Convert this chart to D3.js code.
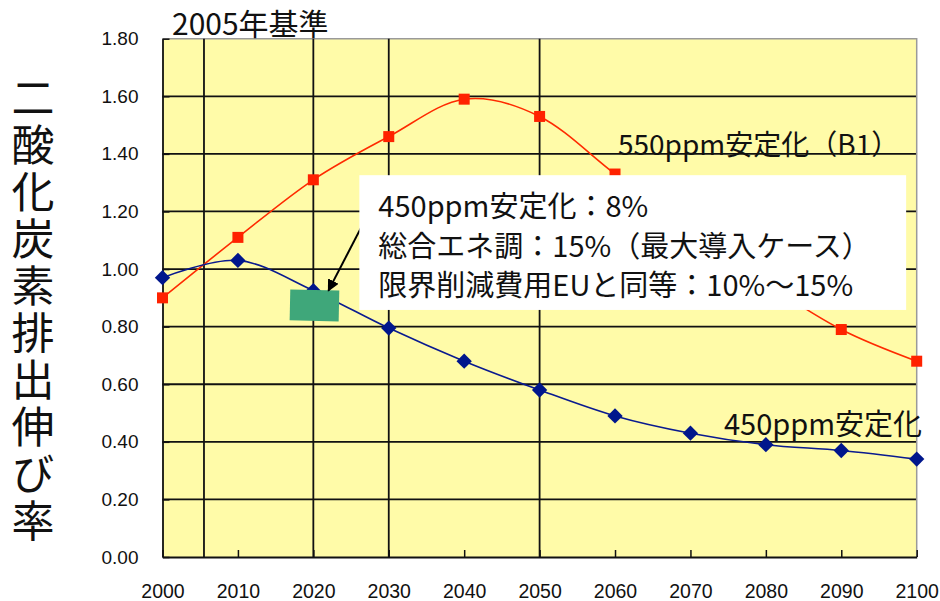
<!DOCTYPE html>
<html>
<head>
<meta charset="utf-8">
<script src="https://cdn.jsdelivr.net/npm/d3@7"></script>
<style>
  html, body { margin: 0; padding: 0; background: #ffffff; }
  svg { display: block; }
</style>
</head>
<body>
<svg id="chart" width="940" height="601"></svg>
<script>
// Emission growth ratios relative to 2005
const years = [2000, 2010, 2020, 2030, 2040, 2050, 2060, 2070, 2080, 2090, 2100];
const b1Values = [0.90, 1.11, 1.31, 1.46, 1.59, 1.53, 1.33, 1.13, 0.95, 0.79, 0.68];
const s450Values = [0.97, 1.03, 0.925, 0.795, 0.68, 0.58, 0.49, 0.43, 0.39, 0.37, 0.34];
const yTicks = [0, 0.2, 0.4, 0.6, 0.8, 1.0, 1.2, 1.4, 1.6, 1.8];
const xTicks = [2000, 2010, 2020, 2030, 2040, 2050, 2060, 2070, 2080, 2090, 2100];
const markerYears = [2005.5, 2020, 2030, 2050];

// Target range for 2020 (8%–15% reduction band) and callout anchors
const bandYears = [2016.9, 2023.4];
const bandValues = [0.82, 0.927];
const arrowFrom = [2027.6, 1.208];
const arrowTo = [2022.0, 0.925];
const noteYears = [2026.1, 2098.6];
const noteValues = [1.326, 0.858];
const noteLines = ["450ppm安定化：8%", "総合エネ調：15%（最大導入ケース）", "限界削減費用EUと同等：10%～15%"];

const yTitle = "二酸化炭素排出伸び率";
const baseLabel = "2005年基準";
const b1Label = "550ppm安定化（B1）";
const s450Label = "450ppm安定化";

const svg = d3.select("#chart");
const plot = { left: 162.5, right: 916.7, top: 38.7, bottom: 557 };

const x = d3.scaleLinear().domain([2000, 2100]).range([plot.left, plot.right]);
const y = d3.scaleLinear().domain([0, 1.8]).range([plot.bottom, plot.top]);

const latin = "'Liberation Sans', Arial, sans-serif";
const cjk = "'Noto Sans CJK JP', 'Noto Sans', sans-serif";

// plot background
svg.append("rect")
  .attr("x", plot.left).attr("y", plot.top)
  .attr("width", plot.right - plot.left).attr("height", plot.bottom - plot.top)
  .attr("fill", "#fffba8");

// horizontal gridlines
svg.append("g").selectAll("line")
  .data(yTicks.filter(v => v > 0 && v < 1.8))
  .join("line")
  .attr("x1", plot.left).attr("x2", plot.right)
  .attr("y1", d => y(d)).attr("y2", d => y(d))
  .attr("stroke", "#111").attr("stroke-width", 1.8);

// top and right frame
svg.append("path")
  .attr("d", `M${plot.left},${plot.top}H${plot.right}V${plot.bottom}`)
  .attr("fill", "none").attr("stroke", "#9a9a9a").attr("stroke-width", 1.5);

// vertical reference lines
svg.append("g").selectAll("line")
  .data(markerYears)
  .join("line")
  .attr("x1", d => x(d)).attr("x2", d => x(d))
  .attr("y1", plot.top).attr("y2", plot.bottom)
  .attr("stroke", "#111").attr("stroke-width", 1.8);

// axes
const yAxis = d3.axisLeft(y).tickValues(yTicks).tickSizeInner(-7).tickSizeOuter(0)
  .tickFormat(d3.format(".2f")).tickPadding(24);
const gy = svg.append("g").attr("transform", `translate(${plot.left},0)`).call(yAxis);
gy.select(".domain").attr("stroke", "#111").attr("stroke-width", 1.8);
gy.selectAll(".tick line").attr("stroke", "#111").attr("stroke-width", 1.5);
gy.selectAll(".tick text")
  .attr("font-family", latin).attr("font-size", 19).attr("fill", "#111");

const xAxis = d3.axisBottom(x).tickValues(xTicks).tickSizeInner(-7).tickSizeOuter(0)
  .tickFormat(d3.format("d")).tickPadding(27);
const gx = svg.append("g").attr("transform", `translate(0,${plot.bottom})`).call(xAxis);
gx.select(".domain").attr("stroke", "#111").attr("stroke-width", 2);
gx.selectAll(".tick line").attr("stroke", "#111").attr("stroke-width", 1.5);
gx.selectAll(".tick text")
  .attr("font-family", latin).attr("font-size", 19.5).attr("fill", "#111");

// series
const line = d3.line().x(d => x(d[0])).y(d => y(d[1])).curve(d3.curveCatmullRom.alpha(0));
const b1 = years.map((yr, i) => [yr, b1Values[i]]);
const s450 = years.map((yr, i) => [yr, s450Values[i]]);

svg.append("path").datum(b1).attr("d", line)
  .attr("fill", "none").attr("stroke", "#ff2a00").attr("stroke-width", 1.6);
svg.append("path").datum(s450).attr("d", line)
  .attr("fill", "none").attr("stroke", "#0a1a8f").attr("stroke-width", 1.6);

svg.append("g").selectAll("rect")
  .data(b1).join("rect")
  .attr("x", d => x(d[0]) - 5.5).attr("y", d => y(d[1]) - 5.5)
  .attr("width", 11).attr("height", 11)
  .attr("fill", "#ff2200");

const diamond = d3.symbol().type(d3.symbolDiamond2).size(150);
svg.append("g").selectAll("path")
  .data(s450).join("path")
  .attr("transform", d => `translate(${x(d[0])},${y(d[1])})`)
  .attr("d", diamond)
  .attr("fill", "#00168c");

// 2020 target band
const bx0 = x(bandYears[0]), bx1 = x(bandYears[1]);
const by0 = y(bandValues[1]), by1 = y(bandValues[0]);
svg.append("rect")
  .attr("x", bx0).attr("y", by0)
  .attr("width", bx1 - bx0).attr("height", by1 - by0)
  .attr("transform", `rotate(1.2,${(bx0 + bx1) / 2},${(by0 + by1) / 2})`)
  .attr("fill", "#3fa77a");

// callout arrow
svg.append("defs").append("marker")
  .attr("id", "arrowhead").attr("viewBox", "0 0 10 10")
  .attr("refX", 9).attr("refY", 5)
  .attr("markerWidth", 6).attr("markerHeight", 6)
  .attr("orient", "auto")
  .append("path").attr("d", "M0,0L10,5L0,10Z").attr("fill", "#000");
svg.append("line")
  .attr("x1", x(arrowFrom[0])).attr("y1", y(arrowFrom[1]))
  .attr("x2", x(arrowTo[0])).attr("y2", y(arrowTo[1]))
  .attr("stroke", "#000").attr("stroke-width", 2)
  .attr("marker-end", "url(#arrowhead)");

// callout box
const nx0 = x(noteYears[0]), nx1 = x(noteYears[1]);
const ny0 = y(noteValues[0]), ny1 = y(noteValues[1]);
svg.append("rect")
  .attr("x", nx0).attr("y", ny0)
  .attr("width", nx1 - nx0).attr("height", ny1 - ny0)
  .attr("fill", "#ffffff");
svg.append("g").selectAll("text")
  .data(noteLines).join("text")
  .attr("x", nx0 + 19)
  .attr("y", (d, i) => ny0 + 42 + i * 39.5)
  .attr("font-family", cjk).attr("font-size", 29).attr("fill", "#111")
  .text(d => d);

// series labels
svg.append("text")
  .attr("x", 618).attr("y", y(1.4) + 1)
  .attr("font-family", cjk).attr("font-size", 28).attr("fill", "#111")
  .text(b1Label);
svg.append("text")
  .attr("x", 724).attr("y", y(0.4) - 7)
  .attr("font-family", cjk).attr("font-size", 29).attr("fill", "#111")
  .text(s450Label);

// base-year note
svg.append("text")
  .attr("x", 172).attr("y", 35)
  .attr("font-family", cjk).attr("font-size", 30).attr("fill", "#111")
  .text(baseLabel);

// vertical axis title
svg.append("text")
  .attr("x", 33).attr("y", 76.5)
  .style("writing-mode", "vertical-rl")
  .style("letter-spacing", "4px")
  .attr("font-family", cjk).attr("font-size", 43).attr("fill", "#111")
  .text(yTitle);
</script>
</body>
</html>
